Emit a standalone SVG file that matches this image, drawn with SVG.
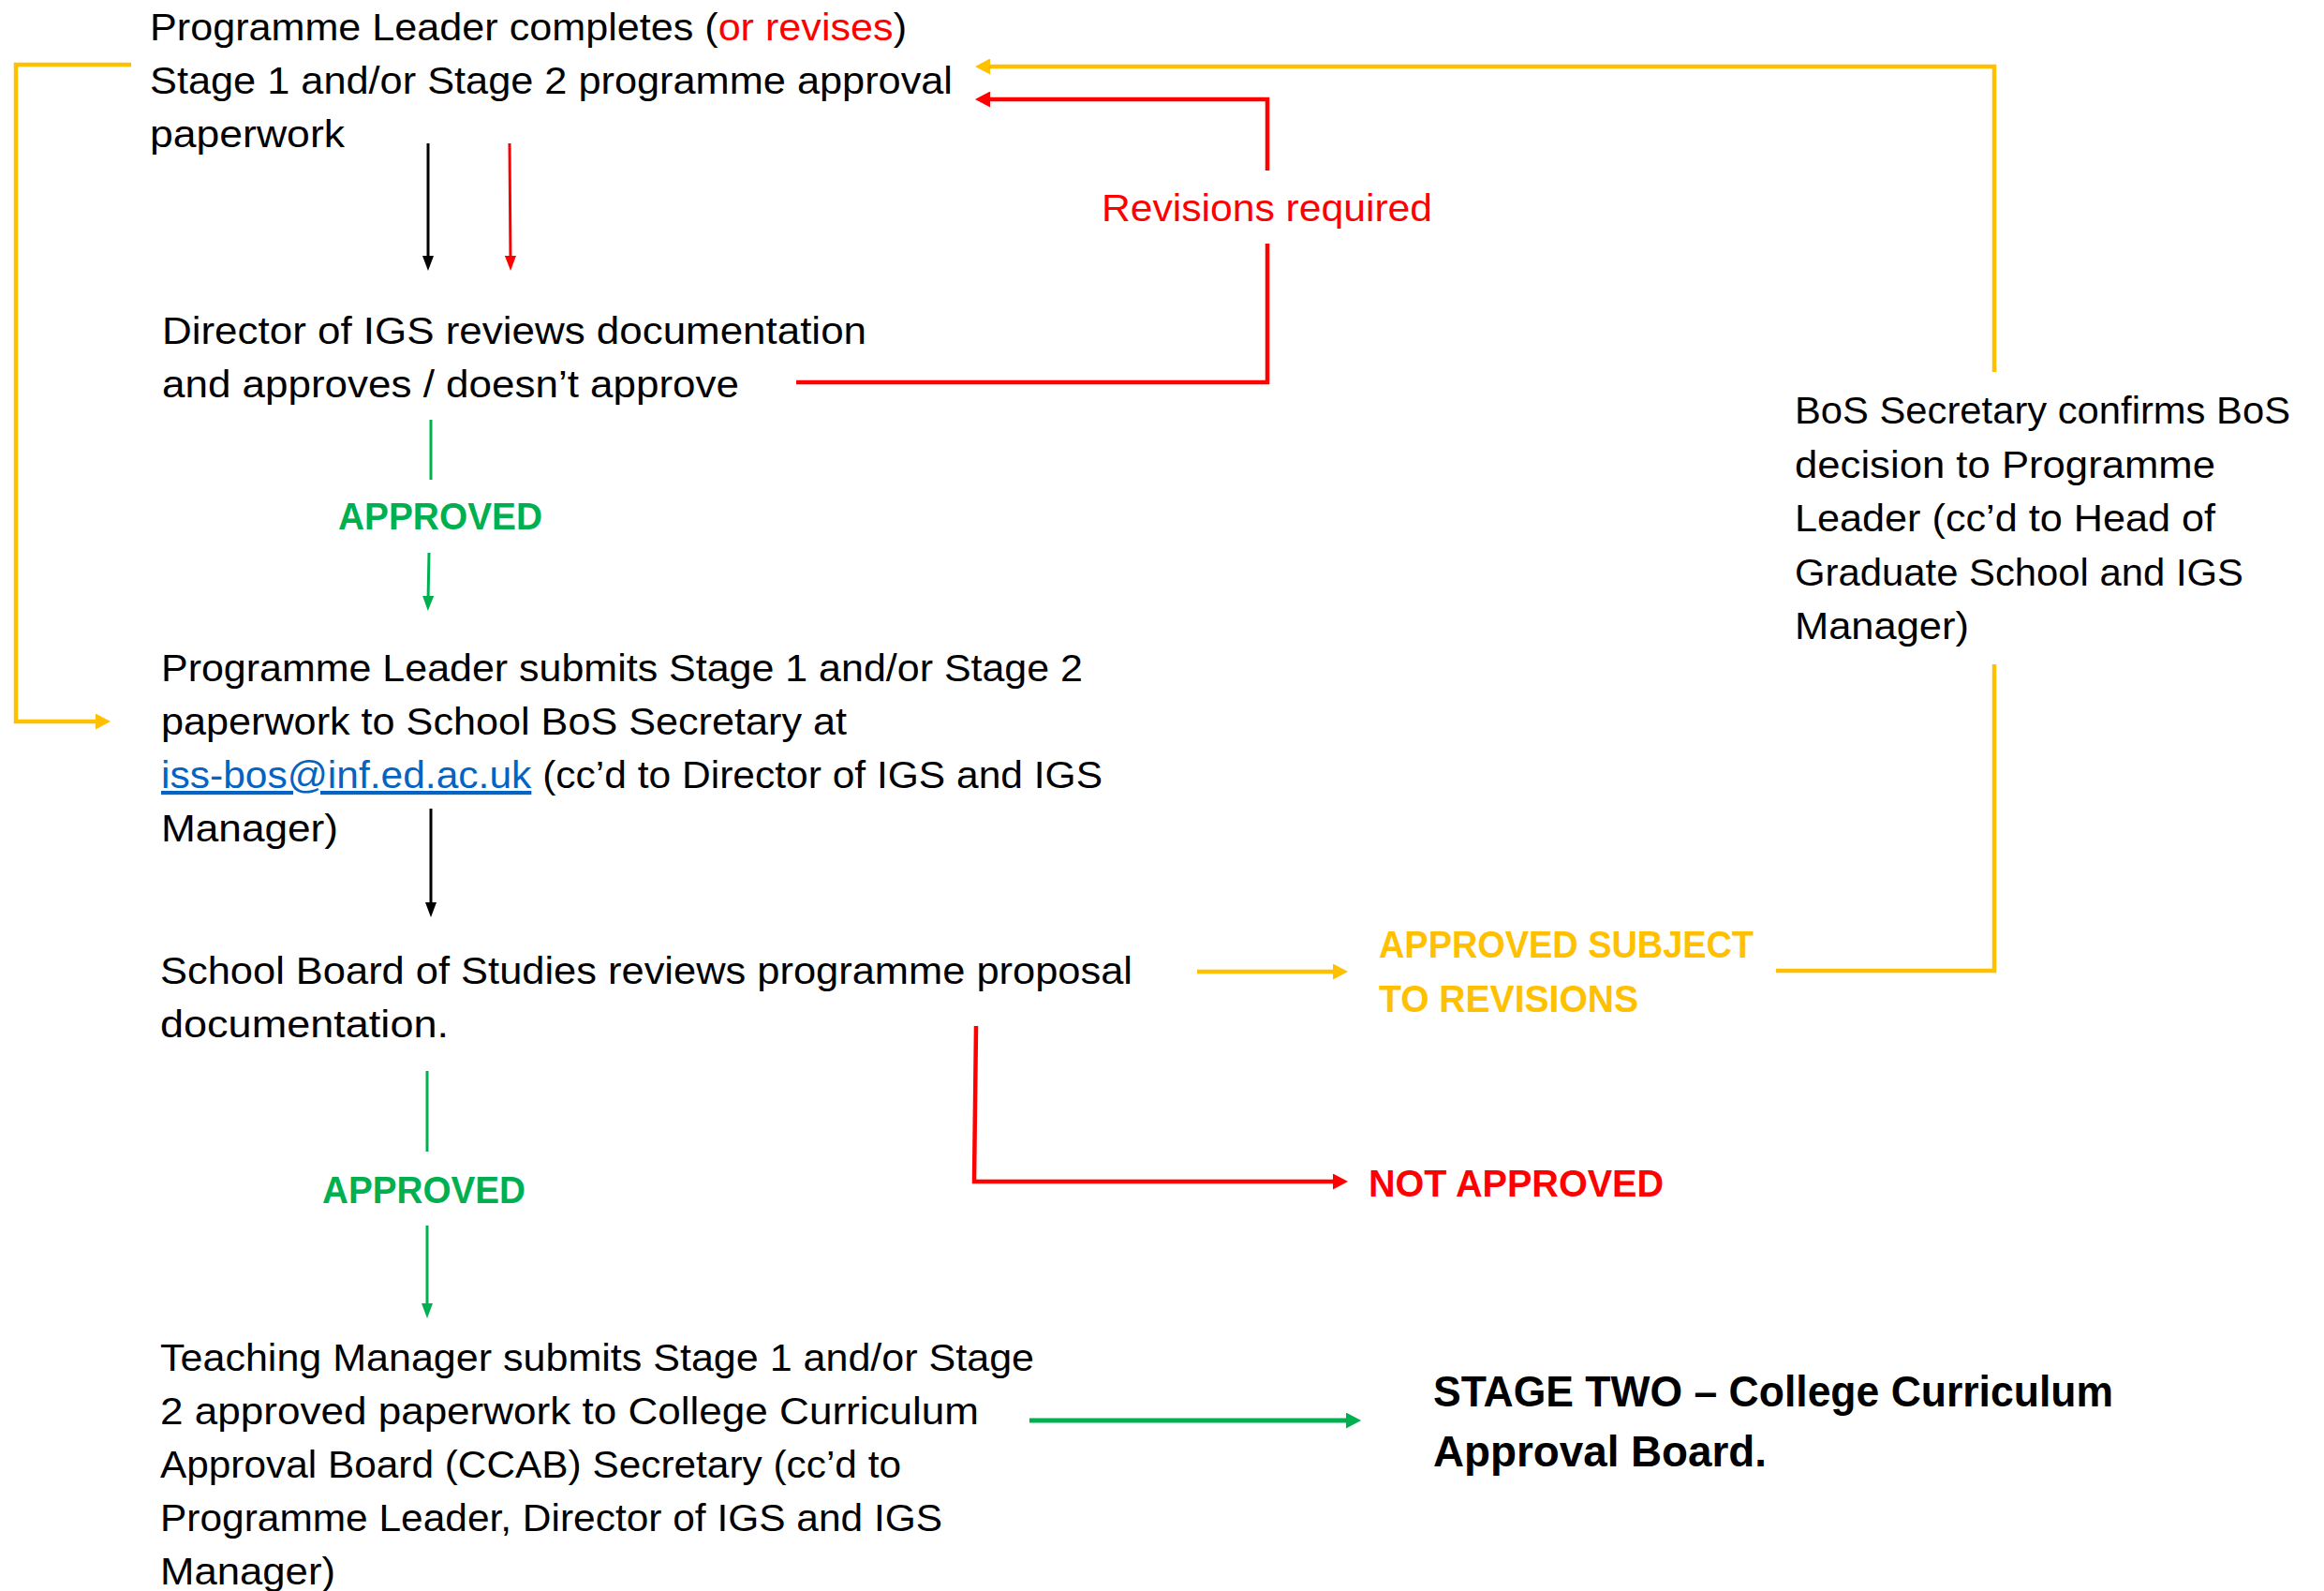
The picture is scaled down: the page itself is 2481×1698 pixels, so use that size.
<svg xmlns="http://www.w3.org/2000/svg" width="2481" height="1698" viewBox="0 0 2481 1698">
<style>
text{font-family:"Liberation Sans",Arial,sans-serif;}
.t{font-size:41.5px;fill:#000;}
.lbl{font-size:40px;font-weight:bold;}
.big{font-size:46px;font-weight:bold;fill:#000;}
.red{fill:#FF0000;}
.grn{fill:#00B050;}
.yel{fill:#FFC000;}
.link{fill:#0563C1;text-decoration:underline;}
.c{fill:none;stroke-linejoin:miter;}
.cb{stroke:#000;stroke-width:3;}
.cr{stroke:#FF0000;stroke-width:3;}
.crt{stroke:#FF0000;stroke-width:4.5;}
.cg{stroke:#00B050;stroke-width:3;}
.cgt{stroke:#00B050;stroke-width:5;}
.cy{stroke:#FFC000;stroke-width:4.5;}
</style>
<defs>
<marker id="aBlack" viewBox="0 0 16 12" markerWidth="16" markerHeight="12" refX="6" refY="6" orient="auto" markerUnits="userSpaceOnUse"><path d="M0,0 L16,6 L0,12 z" fill="#000"/></marker>
<marker id="aRed" viewBox="0 0 16 12" markerWidth="16" markerHeight="12" refX="6" refY="6" orient="auto" markerUnits="userSpaceOnUse"><path d="M0,0 L16,6 L0,12 z" fill="#FF0000"/></marker>
<marker id="aGreen" viewBox="0 0 16 12" markerWidth="16" markerHeight="12" refX="6" refY="6" orient="auto" markerUnits="userSpaceOnUse"><path d="M0,0 L16,6 L0,12 z" fill="#00B050"/></marker>
<marker id="aRedT" viewBox="0 0 16 17" markerWidth="16" markerHeight="17" refX="6" refY="8.5" orient="auto" markerUnits="userSpaceOnUse"><path d="M0,0 L16,8.5 L0,17 z" fill="#FF0000"/></marker>
<marker id="aGreenT" viewBox="0 0 16 17" markerWidth="16" markerHeight="17" refX="6" refY="8.5" orient="auto" markerUnits="userSpaceOnUse"><path d="M0,0 L16,8.5 L0,17 z" fill="#00B050"/></marker>
<marker id="aYelT" viewBox="0 0 16 17" markerWidth="16" markerHeight="17" refX="6" refY="8.5" orient="auto" markerUnits="userSpaceOnUse"><path d="M0,0 L16,8.5 L0,17 z" fill="#FFC000"/></marker>
</defs>
<rect width="2481" height="1698" fill="#fff"/>

<g id="connectors">
<path class="c cb" d="M457,153 L457,279" marker-end="url(#aBlack)"/>
<path class="c cr" d="M544,153 L545,279" marker-end="url(#aRed)"/>
<path class="c cg" d="M460,448 L460,512"/>
<path class="c cg" d="M458,590 L457,642" marker-end="url(#aGreen)"/>
<path class="c crt" d="M850,408 L1353,408 L1353,260"/>
<path class="c crt" d="M1353,182 L1353,106 L1051,106" marker-end="url(#aRedT)"/>
<path class="c cy" d="M2129,397 L2129,71 L1051,71" marker-end="url(#aYelT)"/>
<path class="c cy" d="M140,69 L17,69 L17,770 L108,770" marker-end="url(#aYelT)"/>
<path class="c cb" d="M460,863 L460,969" marker-end="url(#aBlack)"/>
<path class="c cy" d="M1278,1037 L1429,1037" marker-end="url(#aYelT)"/>
<path class="c cy" d="M1896,1036 L2129,1036 L2129,709"/>
<path class="c crt" d="M1042,1095 L1040,1261 L1429,1261" marker-end="url(#aRedT)"/>
<path class="c cg" d="M456,1143 L456,1229"/>
<path class="c cg" d="M456,1308 L456,1397" marker-end="url(#aGreen)"/>
<path class="c cgt" d="M1099,1516 L1443,1516" marker-end="url(#aGreenT)"/>
</g>

<g id="node-programme-leader-completes">
<text class="t" x="160" y="43" textLength="808" lengthAdjust="spacingAndGlyphs">Programme Leader completes (<tspan class="red">or revises</tspan>)</text>
<text class="t" x="160" y="100" textLength="857" lengthAdjust="spacingAndGlyphs">Stage 1 and/or Stage 2 programme approval</text>
<text class="t" x="160" y="157" textLength="208" lengthAdjust="spacingAndGlyphs">paperwork</text>
</g>

<g id="node-director-reviews">
<text class="t" x="173" y="367" textLength="752" lengthAdjust="spacingAndGlyphs">Director of IGS reviews documentation</text>
<text class="t" x="173" y="424" textLength="616" lengthAdjust="spacingAndGlyphs">and approves / doesn’t approve</text>
</g>

<g id="label-revisions-required">
<text class="t red" x="1176" y="236" textLength="353" lengthAdjust="spacingAndGlyphs">Revisions required</text>
</g>

<g id="label-approved-1">
<text class="lbl grn" x="361" y="565" textLength="218" lengthAdjust="spacingAndGlyphs">APPROVED</text>
</g>

<g id="node-programme-leader-submits">
<text class="t" x="172" y="727" textLength="984" lengthAdjust="spacingAndGlyphs">Programme Leader submits Stage 1 and/or Stage 2</text>
<text class="t" x="172" y="784" textLength="732" lengthAdjust="spacingAndGlyphs">paperwork to School BoS Secretary at</text>
<text class="t" x="172" y="841" textLength="1005" lengthAdjust="spacingAndGlyphs"><tspan class="link">iss-bos@inf.ed.ac.uk</tspan> (cc’d to Director of IGS and IGS</text>
<text class="t" x="172" y="898" textLength="189" lengthAdjust="spacingAndGlyphs">Manager)</text>
</g>

<g id="node-bos-secretary-confirms">
<text class="t" x="1916" y="452" textLength="529" lengthAdjust="spacingAndGlyphs">BoS Secretary confirms BoS</text>
<text class="t" x="1916" y="509.5" textLength="449" lengthAdjust="spacingAndGlyphs">decision to Programme</text>
<text class="t" x="1916" y="567" textLength="449" lengthAdjust="spacingAndGlyphs">Leader (cc’d to Head of</text>
<text class="t" x="1916" y="624.5" textLength="479" lengthAdjust="spacingAndGlyphs">Graduate School and IGS</text>
<text class="t" x="1916" y="682" textLength="186" lengthAdjust="spacingAndGlyphs">Manager)</text>
</g>

<g id="node-school-board-reviews">
<text class="t" x="171" y="1050" textLength="1038" lengthAdjust="spacingAndGlyphs">School Board of Studies reviews programme proposal</text>
<text class="t" x="171" y="1107" textLength="308" lengthAdjust="spacingAndGlyphs">documentation.</text>
</g>

<g id="label-approved-subject">
<text class="lbl yel" x="1472" y="1022" textLength="400" lengthAdjust="spacingAndGlyphs">APPROVED SUBJECT</text>
<text class="lbl yel" x="1472" y="1080" textLength="277" lengthAdjust="spacingAndGlyphs">TO REVISIONS</text>
</g>

<g id="label-not-approved">
<text class="lbl red" x="1461" y="1277" textLength="315" lengthAdjust="spacingAndGlyphs">NOT APPROVED</text>
</g>

<g id="label-approved-2">
<text class="lbl grn" x="344" y="1284" textLength="217" lengthAdjust="spacingAndGlyphs">APPROVED</text>
</g>

<g id="node-teaching-manager-submits">
<text class="t" x="171" y="1463" textLength="933" lengthAdjust="spacingAndGlyphs">Teaching Manager submits Stage 1 and/or Stage</text>
<text class="t" x="171" y="1520" textLength="874" lengthAdjust="spacingAndGlyphs">2 approved paperwork to College Curriculum</text>
<text class="t" x="171" y="1577" textLength="791" lengthAdjust="spacingAndGlyphs">Approval Board (CCAB) Secretary (cc’d to</text>
<text class="t" x="171" y="1634" textLength="835" lengthAdjust="spacingAndGlyphs">Programme Leader, Director of IGS and IGS</text>
<text class="t" x="171" y="1691" textLength="187" lengthAdjust="spacingAndGlyphs">Manager)</text>
</g>

<g id="node-stage-two">
<text class="big" x="1530" y="1501" textLength="726" lengthAdjust="spacingAndGlyphs">STAGE TWO – College Curriculum</text>
<text class="big" x="1530" y="1565" textLength="356" lengthAdjust="spacingAndGlyphs">Approval Board.</text>
</g>
</svg>
